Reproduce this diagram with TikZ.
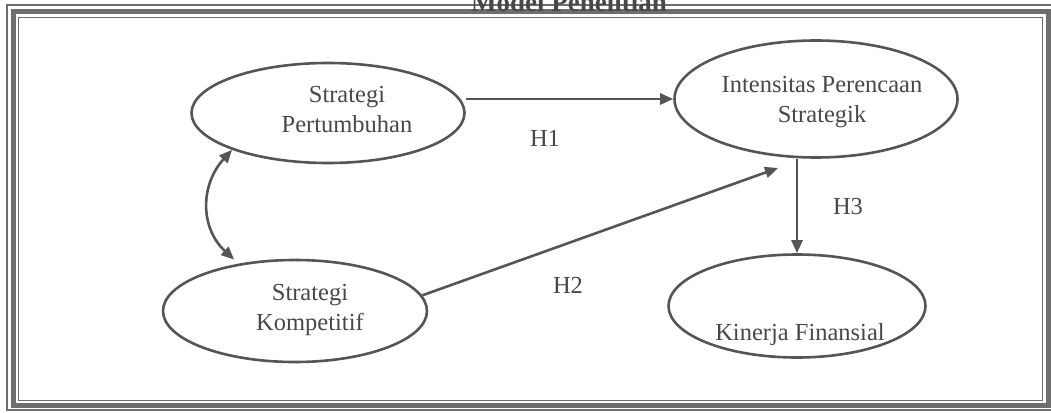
\documentclass[tikz,border=0pt]{standalone}
\usepackage{fontspec}
\setmainfont{Liberation Serif}
\usetikzlibrary{shapes.geometric,arrows.meta}
\definecolor{ln}{HTML}{555555}
\definecolor{tx}{HTML}{484848}
\definecolor{fr}{HTML}{6E6E6E}
\begin{document}
\begin{tikzpicture}[x=1pt,y=-1pt,
  oval/.style={ellipse,draw=ln,line width=2.6pt,inner sep=0pt},
  lbl/.style={text=tx,font=\fontsize{24.5}{30}\selectfont,align=center,inner sep=0pt},
  hyp/.style={text=tx,font=\fontsize{24.5}{30}\selectfont,inner sep=0pt},
  arr/.style={draw=ln,line width=2.6pt,-{Triangle[length=13pt,width=11pt]}},
  arrb/.style={draw=ln,line width=2.6pt,{Triangle[length=13pt,width=11pt]}-{Triangle[length=13pt,width=11pt]}}]
\useasboundingbox (0,0) rectangle (1051,412);
\fill[white] (0,0) rectangle (1051,412);
% frame
\draw[fr,line width=1.3pt] (7,5) rectangle (1056,410);
\draw[fr,line width=5pt] (13,12) rectangle (1048,405);
\draw[fr,line width=1pt] (18,18) rectangle (1042,400);
\node[font=\fontsize{27}{30}\selectfont\bfseries,text=tx,anchor=base,inner sep=0pt] (title) at (569,12) {Model Penelitian};
% ellipses
\node[oval,minimum width=273pt,minimum height=100pt] (SP) at (328,113) {};
\node[oval,minimum width=283pt,minimum height=117pt] (IPS) at (816,99) {};
\node[oval,minimum width=264pt,minimum height=102pt] (SK) at (295,311) {};
\node[oval,minimum width=257pt,minimum height=103pt] (KF) at (797,306) {};
% labels
\node[lbl] (tSP) at (347,110) {Strategi\\Pertumbuhan};
\node[lbl] (tIPS) at (822,102) {Intensitas Perencaan\\Strategik};
\node[lbl] (tSK) at (310,310) {Strategi\\Kompetitif};
\node[hyp,anchor=base] (tKF) at (800,340) {Kinerja Finansial};
\node[hyp] (H1) at (545,138) {H1};
\node[hyp] (H2) at (568,285) {H2};
\node[hyp] (H3) at (848,207) {H3};
% connectors
\coordinate (h2end) at (778,168);
\draw[arr] (SP.east |- IPS.west) -- (IPS.west);
\draw[arr] (SK.7) -- (h2end);
\draw[arr] (IPS.south -| KF.north) -- (KF.north);
\draw[arrb,shorten >=6pt] (SP.201) .. controls (200,185) and (200,228) .. (SK.140);
\end{tikzpicture}
\end{document}
